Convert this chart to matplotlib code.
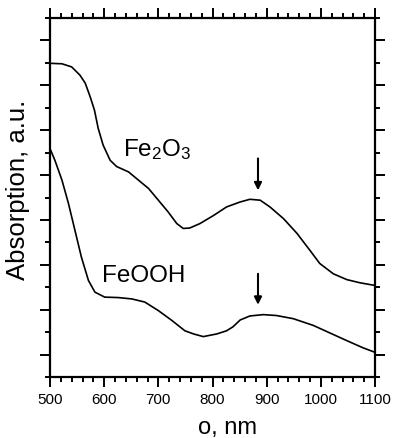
import matplotlib
matplotlib.use("Agg")
import matplotlib.pyplot as plt
import numpy as np
from matplotlib.ticker import MultipleLocator, NullFormatter

plt.rcParams['font.family'] = ['Liberation Sans', 'DejaVu Sans']
plt.rcParams['mathtext.fontset'] = 'custom'
plt.rcParams['mathtext.rm'] = 'Liberation Sans'
plt.rcParams['mathtext.it'] = 'Liberation Sans'

# Data (wavelength nm, absorption a.u.)
fe2o3_wl = [500, 522, 540, 555, 565, 574, 582, 589, 598, 611, 623, 645, 663, 682,
            700, 718, 734, 746, 758, 777, 802, 826, 851, 869, 888, 906, 931, 956,
            980, 998, 1023, 1048, 1072, 1100]
fe2o3_abs = [6.99, 6.98, 6.91, 6.73, 6.55, 6.25, 5.95, 5.54, 5.17, 4.83, 4.69, 4.57, 4.39, 4.20,
             3.94, 3.68, 3.42, 3.31, 3.32, 3.42, 3.60, 3.79, 3.90, 3.96, 3.94, 3.79, 3.53, 3.20,
             2.82, 2.53, 2.30, 2.17, 2.10, 2.04]

feooh_wl = [500, 509, 522, 534, 546, 558, 571, 583, 601, 626, 651, 675, 700, 725,
            749, 765, 783, 808, 826, 838, 851, 869, 894, 918, 949, 986, 1017, 1048,
            1078, 1100]
feooh_abs = [5.09, 4.83, 4.39, 3.87, 3.27, 2.67, 2.15, 1.89, 1.78, 1.77, 1.74, 1.67, 1.48, 1.26,
             1.03, 0.96, 0.90, 0.96, 1.03, 1.12, 1.27, 1.36, 1.39, 1.37, 1.30, 1.15, 0.98, 0.81,
             0.65, 0.55]

labels = ['Fe$_2$O$_3$', 'FeOOH']
label_pos = [(635, 4.94), (596, 2.15)]
arrow_wl = [884, 884]
arrow_start = [4.87, 2.30]
arrow_end = [4.16, 1.61]

x_ticks = [500, 600, 700, 800, 900, 1000, 1100]

fig = plt.figure(figsize=(3.93, 4.39), dpi=100)
ax = fig.add_axes([50/393, 1-378/439, 325/393, 359/439])

ax.plot(fe2o3_wl, fe2o3_abs, color='black', lw=1.2, solid_joinstyle='round')
ax.plot(feooh_wl, feooh_abs, color='black', lw=1.2, solid_joinstyle='round')

for t, (x, y) in zip(labels, label_pos):
    ax.text(x, y, t, fontsize=17.5, ha='left', va='baseline')

for x, y0, y1 in zip(arrow_wl, arrow_start, arrow_end):
    ax.annotate('', xy=(x, y1), xytext=(x, y0),
                arrowprops=dict(arrowstyle='-|>', color='black', lw=1.5,
                                mutation_scale=11, shrinkA=0, shrinkB=0))

ax.set_xlim(500, 1100)
ax.set_ylim(0, 8)
ax.set_xticks(x_ticks)
ax.xaxis.set_minor_locator(MultipleLocator(20))
ax.set_yticks(np.arange(0.5, 8, 1.0))
ax.yaxis.set_minor_locator(MultipleLocator(1.0))
ax.yaxis.set_major_formatter(NullFormatter())

for s in ax.spines.values():
    s.set_linewidth(1.6)

ax.tick_params(which='both', direction='out', top=True, right=True, width=1.4)
ax.tick_params(which='major', length=7, labelsize=11)
ax.tick_params(which='minor', length=3.5)
ax.tick_params(axis='x', pad=4)

fig.text(18/393, 1-190/439, 'Absorption, a.u.', rotation=90, fontsize=18.5,
         ha='center', va='center')
fig.text(227/393, 1-428/439, 'ο, nm', fontsize=17, ha='center', va='center')

fig.savefig('out.png', dpi=100)
